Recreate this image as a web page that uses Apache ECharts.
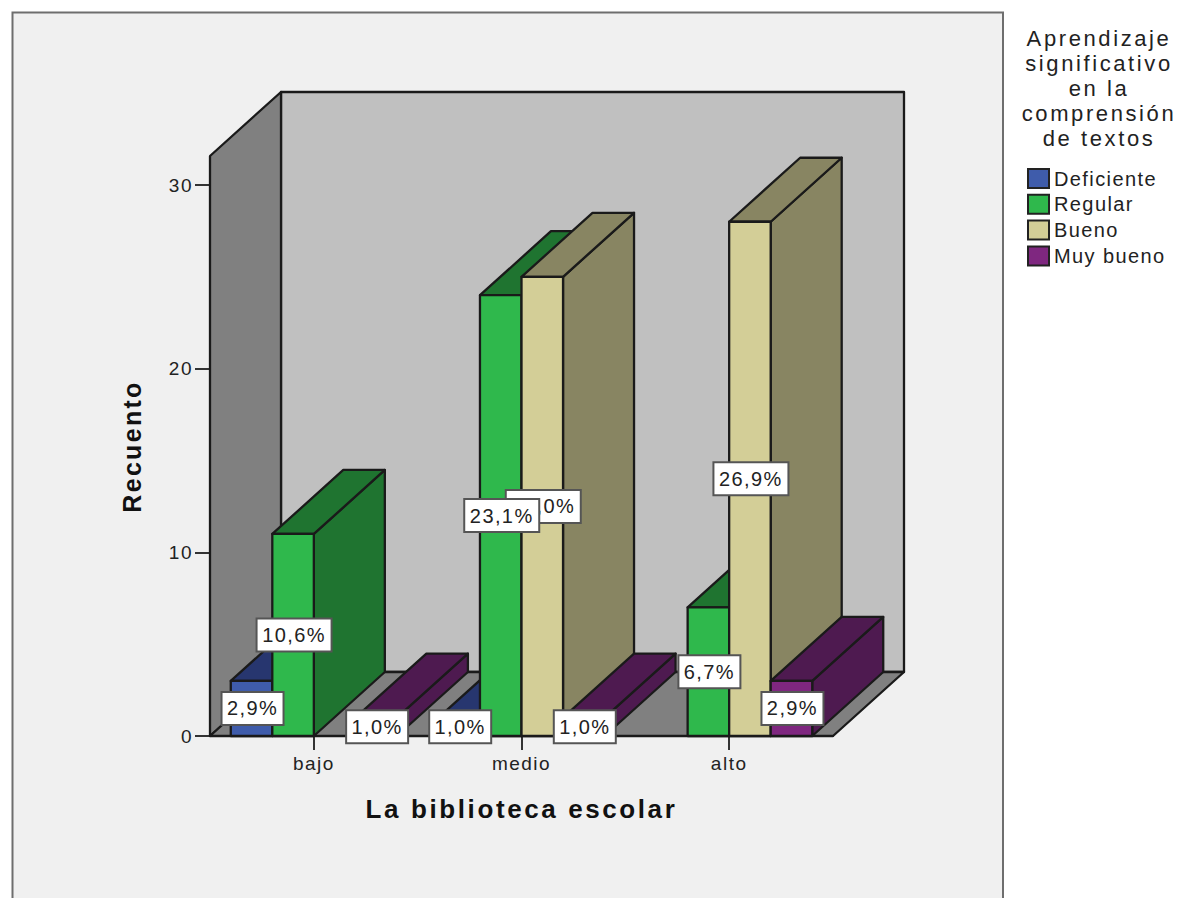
<!DOCTYPE html>
<html lang="es">
<head>
<meta charset="utf-8">
<title>La biblioteca escolar</title>
<script src="https://cdn.jsdelivr.net/npm/echarts@6/dist/echarts.min.js"></script>
<style>
  html, body { margin: 0; padding: 0; background: #fff; }
  #chart { width: 1179px; height: 898px; }
  /* Wide tracking per text size; ECharts has no letter-spacing option */
  #chart text[style*="19px"] { letter-spacing: 1.5px; }
  #chart text[style*="20px"] { letter-spacing: 1.4px; }
  #chart text[style*="22px"] { letter-spacing: 2.6px; }
  #chart text[style*="25px"] { letter-spacing: 2.3px; }
  #chart text[style*="26px"] { letter-spacing: 2.6px; }
</style>
</head>
<body>
<div id="chart"></div>
<script>
// Counts per school-library level, one list per comprehension grade
const categories = ['bajo', 'medio', 'alto'];
const deficiente = [3, 1, null];
const regular = [11, 24, 7];
const bueno = [null, 25, 28];
const muyBueno = [1, 1, 3];
const totalCases = 104;
const yTicksMax = 30;
const wallTopValue = 31.58;

const seriesNames = ['Deficiente', 'Regular', 'Bueno', 'Muy bueno'];
const seriesValues = [deficiente, regular, bueno, muyBueno];
const frontColors = ['#3f5cab', '#2fb84c', '#d3ce97', '#7f2780'];
const shadeColors = ['#27366f', '#1f7430', '#888562', '#4e1a50'];

const FONT = '"Liberation Sans", Arial, sans-serif';
const EDGE = '#1a1a1a';
// Oblique projection of the chart's depth, in pixels
const DEPTH_X = 71;
const DEPTH_Y = -64;
const BAR_SHARE = 0.2;

const percentLabel = v => (v / totalCases * 100).toFixed(1).replace('.', ',') + '%';

function face(points, fill, z2) {
  return {
    type: 'polygon',
    shape: { points },
    style: { fill, stroke: EDGE, lineWidth: 2.3, lineJoin: 'round' },
    z2
  };
}

function renderWalls(params, api) {
  const band = api.size([1, 0])[0];
  const o = api.coord([0, 0]);
  const t = api.coord([0, api.value(1)]);
  const r = api.coord([categories.length - 1, 0]);
  const l = o[0] - band / 2;
  const rx = r[0] + band / 2;
  const y0 = o[1];
  const yt = t[1];
  const dx = DEPTH_X;
  const dy = DEPTH_Y;
  return {
    type: 'group',
    children: [
      face([[l + dx, yt + dy], [rx + dx, yt + dy], [rx + dx, y0 + dy], [l + dx, y0 + dy]], '#c0c0c0', 0),
      face([[l, yt], [l + dx, yt + dy], [l + dx, y0 + dy], [l, y0]], '#808080', 1),
      face([[l, y0], [l + dx, y0 + dy], [rx + dx, y0 + dy], [rx, y0]], '#808080', 1)
    ]
  };
}

function barRenderer(slot) {
  return function (params, api) {
    const cat = api.value(0);
    const val = api.value(1);
    const band = api.size([1, 0])[0];
    const w = band * BAR_SHARE;
    const base = api.coord([cat, 0]);
    const top = api.coord([cat, val]);
    const mid = api.coord([cat, val / 2]);
    const x0 = base[0] + (slot - 2) * w;
    const x1 = x0 + w;
    const dx = DEPTH_X;
    const dy = DEPTH_Y;
    const z = 10 + cat * 10 + slot;
    const text = percentLabel(val);
    const boxW = text.length * 13 + 10;
    const boxH = 33;
    const cx = (x0 + x1) / 2 + 1;
    return {
      type: 'group',
      children: [
        face([[x1, top[1]], [x1 + dx, top[1] + dy], [x1 + dx, base[1] + dy], [x1, base[1]]], shadeColors[slot], z),
        face([[x0, top[1]], [x0 + dx, top[1] + dy], [x1 + dx, top[1] + dy], [x1, top[1]]], shadeColors[slot], z),
        face([[x0, top[1]], [x1, top[1]], [x1, base[1]], [x0, base[1]]], frontColors[slot], z),
        {
          type: 'rect',
          shape: { x: cx - boxW / 2, y: mid[1] - boxH / 2, width: boxW, height: boxH },
          style: { fill: '#fff', stroke: '#555', lineWidth: 2 },
          z2: 200 - slot * 10
        },
        {
          type: 'text',
          style: {
            text, x: cx, y: mid[1], align: 'center', verticalAlign: 'middle',
            fill: '#222', font: '20px ' + FONT
          },
          z2: 201 - slot * 10
        }
      ]
    };
  };
}

const barSeries = seriesNames.map((name, slot) => ({
  name,
  type: 'custom',
  z: 3,
  itemStyle: { color: frontColors[slot] },
  encode: { x: 0, y: 1 },
  renderItem: barRenderer(slot),
  data: seriesValues[slot]
    .map((v, i) => [i, v])
    .filter(d => d[1] !== null)
}));

const chart = echarts.init(document.getElementById('chart'), null, { renderer: 'svg' });
chart.setOption({
  animation: false,
  backgroundColor: '#fff',
  textStyle: { fontFamily: FONT },
  graphic: [{
    type: 'rect',
    z: -10,
    shape: { x: 12.5, y: 12.5, width: 990.5, height: 900 },
    style: { fill: '#f0f0f0', stroke: '#6e6e6e', lineWidth: 2 },
    silent: true
  }],
  title: {
    text: 'Aprendizaje\nsignificativo\nen la\ncomprensión\nde textos',
    left: 1099,
    top: 26,
    padding: 0,
    textAlign: 'center',
    textStyle: {
      fontFamily: FONT, fontSize: 22, fontWeight: 'normal',
      color: '#222', lineHeight: 25
    }
  },
  legend: {
    data: seriesNames.map((name, i) => ({
      name,
      icon: 'rect',
      itemStyle: { color: frontColors[i], borderColor: '#222', borderWidth: 2 }
    })),
    orient: 'vertical',
    left: 1027,
    top: 168,
    padding: 0,
    itemWidth: 21,
    itemHeight: 19,
    itemGap: 4.8,
    selectedMode: false,
    textStyle: { fontFamily: FONT, fontSize: 20, color: '#222' }
  },
  grid: { left: 210, right: 346, top: 185, bottom: 162 },
  xAxis: {
    type: 'category',
    data: categories,
    name: 'La biblioteca escolar',
    nameLocation: 'middle',
    nameGap: 60,
    nameTextStyle: { fontFamily: FONT, fontSize: 26, fontWeight: 'bold', color: '#111' },
    axisLine: { lineStyle: { color: EDGE, width: 2 } },
    axisTick: { show: true, alignWithLabel: true, length: 14, lineStyle: { color: '#333', width: 2 } },
    axisLabel: { fontFamily: FONT, fontSize: 19, color: '#222', margin: 18 }
  },
  yAxis: {
    type: 'value',
    min: 0,
    max: yTicksMax,
    interval: 10,
    name: 'Recuento',
    nameLocation: 'middle',
    nameGap: 66,
    nameTextStyle: { fontFamily: FONT, fontSize: 25, fontWeight: 'bold', color: '#111', padding: [0, 0, 0, 28] },
    splitLine: { show: false },
    axisLine: { show: true, lineStyle: { color: EDGE, width: 2 } },
    axisTick: { show: true, length: 15, lineStyle: { color: '#333', width: 2 } },
    axisLabel: { fontFamily: FONT, fontSize: 19, color: '#222', margin: 17 }
  },
  series: [{
    type: 'custom',
    silent: true,
    z: 1,
    encode: { x: 0, y: 1 },
    renderItem: renderWalls,
    data: [[0, wallTopValue]]
  }].concat(barSeries)
});
</script>
</body>
</html>
